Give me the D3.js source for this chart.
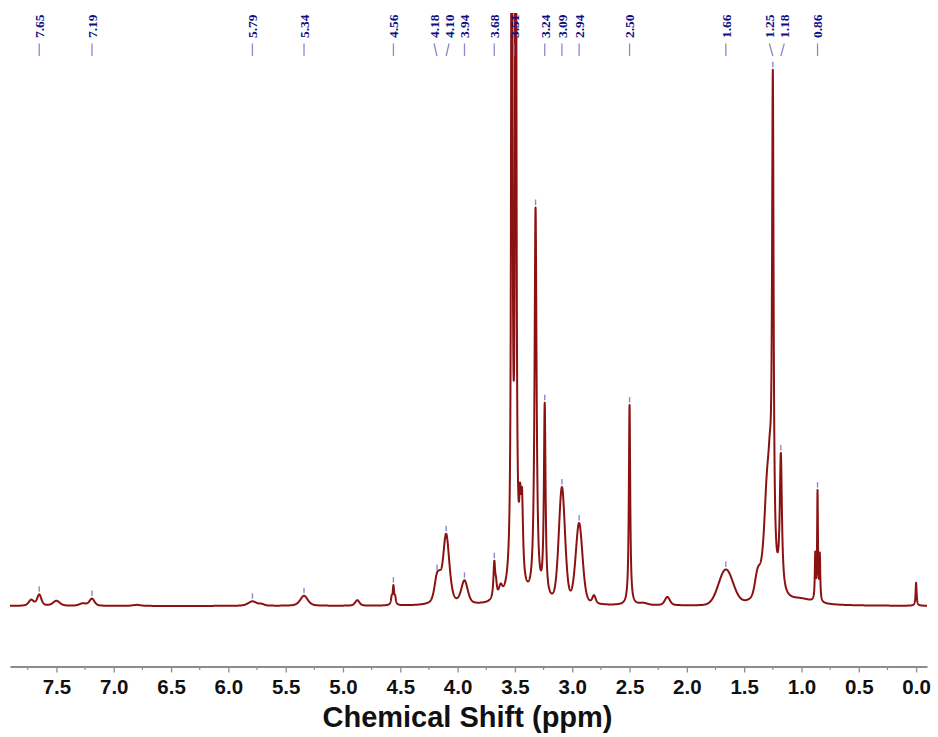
<!DOCTYPE html>
<html>
<head>
<meta charset="utf-8">
<script src="https://cdn.jsdelivr.net/npm/d3@7"></script>
<style>
  html, body { margin: 0; padding: 0; background: #ffffff; }
  svg { display: block; }
</style>
</head>
<body>
<svg id="chart" width="938" height="737"></svg>
<script>
// 1H NMR peak table: chemical shift (ppm), relative intensity, half-width (ppm), gaussian fraction
const peakShift  = [7.72, 7.65, 7.50, 7.27, 7.19, 6.80, 5.79, 5.71, 5.34, 4.875,
                    4.575, 4.56, 4.545, 4.18, 4.155, 4.10, 3.94, 3.68, 3.665, 3.625,
                    3.527, 3.493, 3.50, 3.455, 3.438, 3.32, 3.24, 3.09, 2.94, 2.81,
                    2.50, 2.38, 2.17, 1.66, 1.383, 1.30, 1.275, 1.25, 1.18, 1.00,
                    0.88, 0.86, 0.84, 0.00];
const peakHeight = [1.1, 2.1, 0.95, 0.45, 1.35, 0.2, 0.85, 0.28, 1.9, 1.05,
                    1.3, 3.4, 1.3, 4.7, 1.5, 13.2, 4.35, 6.8, 2.3, 1.9,
                    240, 240, 6.5, 10.4, 14.2, 73.9, 36.4, 21.8, 15.2, 1.5,
                    37.9, 0.38, 1.6, 6.6, 3.4, 19.6, 11.4, 90.5, 25.6, 0.95,
                    8.5, 20.5, 8.5, 4.35];
const peakWidth  = [0.026, 0.022, 0.035, 0.035, 0.026, 0.04, 0.044, 0.026, 0.039, 0.022,
                    0.007, 0.007, 0.007, 0.026, 0.017, 0.033, 0.033, 0.009, 0.009, 0.017,
                    0.0048, 0.0048, 0.05, 0.009, 0.0105, 0.0105, 0.0087, 0.032, 0.035, 0.017,
                    0.007, 0.044, 0.026, 0.074, 0.026, 0.035, 0.0175, 0.0079, 0.0113, 0.13,
                    0.0044, 0.0044, 0.0044, 0.0052];
const peakGauss  = [0.5, 0.5, 0.5, 0.5, 0.5, 0.5, 0.5, 0.5, 0.5, 0.5,
                    0, 0, 0, 0.5, 0.5, 0.5, 0.6, 0, 0, 0.5,
                    0, 0, 0, 0, 0, 0, 0, 0.7, 0.7, 0.5,
                    0, 0.5, 0.5, 1, 1, 0, 0, 0, 0, 0,
                    0, 0, 0, 0];

// Peak-picking annotations
const labelShifts  = [7.65, 7.19, 5.79, 5.34, 4.56, 4.18, 4.10, 3.94, 3.68, 3.51,
                      3.24, 3.09, 2.94, 2.50, 1.66, 1.25, 1.18, 0.86];
const markedShifts = [7.65, 7.19, 5.79, 5.34, 4.56, 4.18, 4.10, 3.94, 3.68, 3.32,
                      3.24, 3.09, 2.94, 2.50, 1.66, 1.25, 1.18, 0.86];

// Axis ticks (ppm)
const majorTicks = [7.5, 7.0, 6.5, 6.0, 5.5, 5.0, 4.5, 4.0, 3.5, 3.0, 2.5, 2.0, 1.5, 1.0, 0.5, 0.0];
const minorTicks = [7.75, 7.25, 6.75, 6.25, 5.75, 5.25, 4.75, 4.25, 3.75, 3.25, 2.75, 2.25, 1.75, 1.25, 0.75, 0.25];
const ppmRange = [7.905, -0.095];
const axisTitle = "Chemical Shift (ppm)";

const svg = d3.select("#chart");
const x = d3.scaleLinear().domain(ppmRange).range([10, 927]);
const y = d3.scaleLinear().domain([0, 100]).range([606, 78]);

// pseudo-Voigt line shape summed over the peak table
function intensity(p) {
  let s = 0;
  for (let i = 0; i < peakShift.length; i++) {
    const d = (p - peakShift[i]) / peakWidth[i];
    const lor = 1 / (1 + d * d);
    const gau = Math.exp(-Math.LN2 * d * d);
    const g = peakGauss[i];
    s += peakHeight[i] * ((1 - g) * lor + g * gau);
  }
  return s;
}

const step = 0.001;
const spectrum = d3.range(ppmRange[1], ppmRange[0] + step / 2, step)
  .map(p => ({ ppm: p, v: intensity(p) }));

svg.append("clipPath").attr("id", "plotClip")
  .append("rect").attr("x", 10).attr("y", 13).attr("width", 917).attr("height", 620);

svg.append("path")
  .datum(spectrum)
  .attr("clip-path", "url(#plotClip)")
  .attr("fill", "none")
  .attr("stroke", "#8b1212")
  .attr("stroke-width", 2)
  .attr("stroke-linejoin", "round")
  .attr("d", d3.line().x(d => x(d.ppm)).y(d => y(d.v)));

// small markers above picked peaks
svg.append("g").selectAll("line")
  .data(markedShifts)
  .join("line")
  .attr("x1", d => x(d)).attr("x2", d => x(d))
  .attr("y1", d => y(intensity(d)) - 8)
  .attr("y2", d => y(intensity(d)) - 2.5)
  .attr("stroke", "#8a8ad0")
  .attr("stroke-width", 1.4);

// label layout: spread crowded labels apart
const minGap = 15;
const lab = labelShifts.map(s => ({ s, px: x(s), lx: x(s) }));
lab.sort((a, b) => a.px - b.px);
for (let it = 0; it < 200; it++) {
  let moved = false;
  for (let i = 0; i < lab.length - 1; i++) {
    const gap = lab[i + 1].lx - lab[i].lx;
    if (gap < minGap - 0.01) {
      const d = (minGap - gap) / 2;
      lab[i].lx -= d; lab[i + 1].lx += d; moved = true;
    }
  }
  if (!moved) break;
}

const lg = svg.append("g");
lg.selectAll("line")
  .data(lab)
  .join("line")
  .attr("x1", d => d.lx).attr("y1", 43.5)
  .attr("x2", d => d.px).attr("y2", 56)
  .attr("stroke", "#8a8ac8")
  .attr("stroke-width", 1.3);

lg.selectAll("text")
  .data(lab)
  .join("text")
  .attr("transform", d => `translate(${d.lx},38) rotate(-90)`)
  .attr("dy", "0.36em")
  .attr("text-anchor", "start")
  .attr("font-family", "'Liberation Serif', 'Times New Roman', serif")
  .attr("font-weight", "bold")
  .attr("font-size", 13.5)
  .attr("fill", "#0f0f85")
  .text(d => d.s.toFixed(2));

// x axis
const axisY = 666.5;
const ax = svg.append("g").attr("transform", `translate(0,${axisY})`);
ax.call(d3.axisBottom(x).tickValues(majorTicks).tickSize(6).tickSizeOuter(0)
  .tickPadding(7).tickFormat(d3.format(".1f")));
ax.select(".domain").attr("stroke", "#8c8c8c").attr("stroke-width", 1.8);
ax.selectAll(".tick line").attr("stroke", "#8c8c8c").attr("stroke-width", 1.3);
ax.selectAll(".tick text")
  .attr("font-family", "'Liberation Sans', Arial, sans-serif")
  .attr("font-weight", "bold")
  .attr("font-size", 20.5)
  .attr("fill", "#111");

ax.append("g").selectAll("line")
  .data(minorTicks)
  .join("line")
  .attr("x1", d => x(d)).attr("x2", d => x(d))
  .attr("y1", 0).attr("y2", 3.5)
  .attr("stroke", "#8c8c8c").attr("stroke-width", 1.2);

svg.append("text")
  .attr("x", 467.5).attr("y", 727)
  .attr("text-anchor", "middle")
  .attr("font-family", "'Liberation Sans', Arial, sans-serif")
  .attr("font-weight", "bold")
  .attr("font-size", 29)
  .attr("fill", "#111")
  .text(axisTitle);
</script>
</body>
</html>
